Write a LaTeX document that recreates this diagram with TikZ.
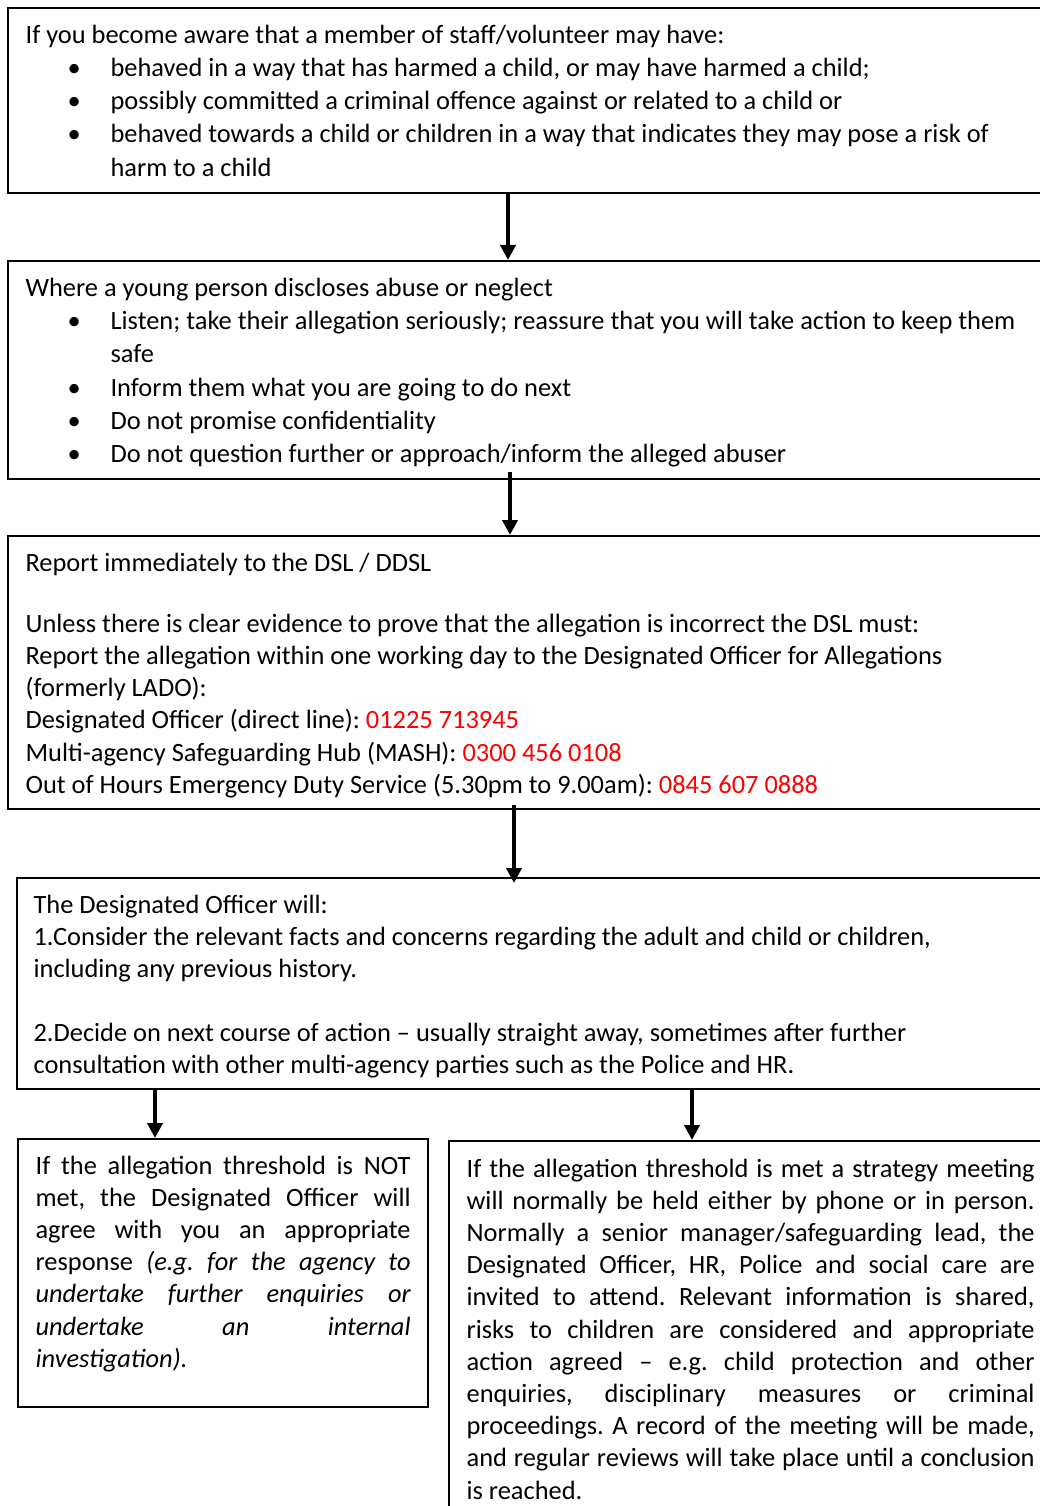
\documentclass[tikz,border=0pt]{standalone}
\usepackage{fontspec}
\setmainfont{Carlito}
\usetikzlibrary{arrows.meta}

\hbadness=10000
\frenchspacing
\newcommand{\flowitem}[1]{\par\hangindent=85pt\hangafter=1\noindent\makebox[85pt][l]{\hspace{42pt}\textbullet}#1}
\newcommand{\flowtext}[3]{\parbox[c][#1][t]{#2}{\frenchspacing\rule{0pt}{35pt}#3}}

\begin{document}
\begin{tikzpicture}[x=1pt,y=-1pt,
    font=\fontsize{26.4}{32.2}\selectfont,
    flowbox/.style={draw, line width=2.2pt, anchor=north west,
        inner xsep=17.5pt, inner ysep=0pt},
    flowarrow/.style={line width=4.5pt, -{Triangle[width=15pt,length=15pt]}}
    ]
    \useasboundingbox (0,0) rectangle (1040,1506);
    \clip (0,0) rectangle (1040,1506);

    % staff or volunteer concern
    \node[flowbox, font=\fontsize{26.4}{33.3}\selectfont] (aware) at (7,7)
        {\flowtext{185pt}{1018pt}{\raggedright
        If you become aware that a member of staff/volunteer may have:
        \flowitem{behaved in a way that has harmed a child, or may have harmed a child;}
        \flowitem{possibly committed a criminal offence against or related to a child or}
        \flowitem{behaved towards a child or children in a way that indicates they may pose a risk of\newline harm to a child}}};

    % disclosure
    \node[flowbox, font=\fontsize{26.4}{33.3}\selectfont] (disclose) at (7,260)
        {\flowtext{218pt}{1018pt}{\raggedright
        Where a young person discloses abuse or neglect
        \flowitem{Listen; take their allegation seriously; reassure that you will take action to keep them\newline safe}
        \flowitem{Inform them what you are going to do next}
        \flowitem{Do not promise confidentiality}
        \flowitem{Do not question further or approach/inform the alleged abuser}}};

    % report to DSL
    \node[flowbox] (report) at (7,535)
        {\flowtext{273pt}{1018pt}{\raggedright
        Report immediately to the DSL / DDSL\\[29pt]
        Unless there is clear evidence to prove that the allegation is incorrect the DSL must:\\
        Report the allegation within one working day to the Designated Officer for Allegations\\
        (formerly LADO):\\
        Designated Officer (direct line): \textcolor{red}{01225 713945}\\
        Multi-agency Safeguarding Hub (MASH): \textcolor{red}{0300 456 0108}\\
        Out of Hours Emergency Duty Service (5.30pm to 9.00am): \textcolor{red}{0845 607 0888}}};

    % designated officer
    \node[flowbox, inner xsep=16.5pt] (officer) at (16,877)
        {\flowtext{211pt}{1011pt}{\raggedright
        The Designated Officer will:\\
        1.Consider the relevant facts and concerns regarding the adult and child or children,\\
        including any previous history.\\[32pt]
        2.Decide on next course of action -- usually straight away, sometimes after further\\
        consultation with other multi-agency parties such as the Police and HR.}};

    % threshold not met
    \node[flowbox] (notmet) at (17,1138)
        {\flowtext{268pt}{375pt}{%
        If the allegation threshold is NOT\linebreak
        met, the Designated Officer will\linebreak
        agree with you an appropriate\linebreak
        response {\itshape (e.g. for the agency to\linebreak
        undertake further enquiries or\linebreak
        undertake an internal\linebreak
        investigation).}}};

    % threshold met
    \node[flowbox] (met) at (448,1140)
        {\flowtext{390pt}{568pt}{\rule{0pt}{36pt}%
        If the allegation threshold is met a strategy meeting\linebreak
        will normally be held either by phone or in person.\linebreak
        Normally a senior manager/safeguarding lead, the\linebreak
        Designated Officer, HR, Police and social care are\linebreak
        invited to attend. Relevant information is shared,\linebreak
        risks to children are considered and appropriate\linebreak
        action agreed -- e.g. child protection and other\linebreak
        enquiries, disciplinary measures or criminal\linebreak
        proceedings. A record of the meeting will be made,\linebreak
        and regular reviews will take place until a conclusion\linebreak
        is reached.}};

    % arrows
    \draw[flowarrow] (aware.south -| 508,0) -- (disclose.north -| 508,0);
    \draw[flowarrow, shorten <=-8pt] (disclose.south -| 510,0) -- (report.north -| 510,0);
    \draw[flowarrow, shorten <=-5pt, shorten >=-6pt] (report.south -| 514,0) -- (officer.north -| 514,0);
    \draw[flowarrow] (officer.south -| 155,0) -- (notmet.north -| 155,0);
    \draw[flowarrow] (officer.south -| 692,0) -- (met.north -| 692,0);

\end{tikzpicture}
\end{document}
